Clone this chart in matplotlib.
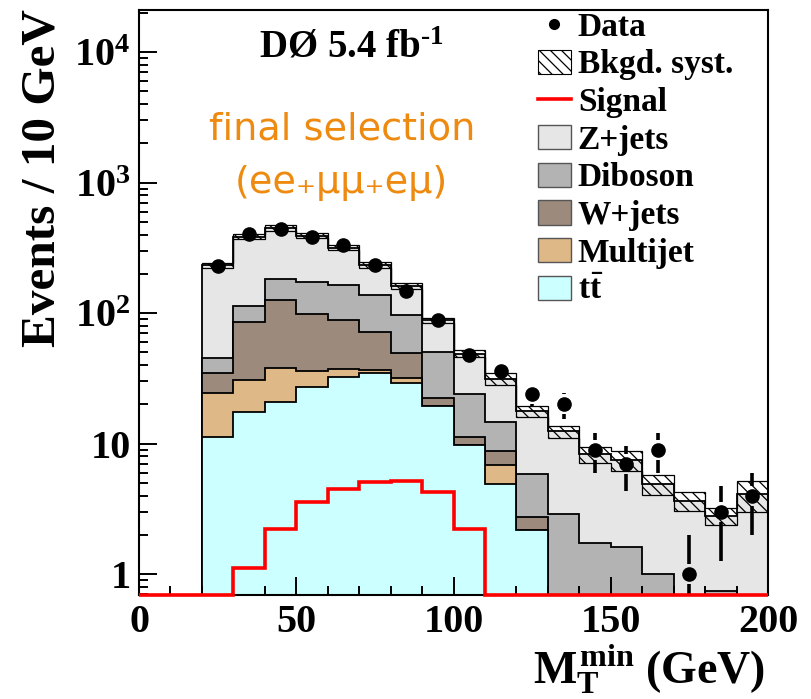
import numpy as np
import matplotlib
matplotlib.use("Agg")
import matplotlib.pyplot as plt
from matplotlib.patches import Patch
from matplotlib.lines import Line2D
from matplotlib.ticker import FixedLocator, FixedFormatter, MultipleLocator, LogLocator, NullFormatter

# fonts: bold times-like everywhere (ROOT style)
plt.rcParams['font.family'] = ['Liberation Serif', 'DejaVu Serif']
plt.rcParams['font.weight'] = 'bold'
plt.rcParams['mathtext.fontset'] = 'custom'
plt.rcParams['mathtext.rm'] = 'Liberation Serif:bold'
plt.rcParams['mathtext.bf'] = 'Liberation Serif:bold'
plt.rcParams['mathtext.it'] = 'Liberation Serif:bold'
plt.rcParams['hatch.linewidth'] = 0.9

# binning: 10 GeV bins, MC starts at 20 GeV
edges = np.arange(20, 201, 10)
centers = edges[:-1] + 5
sig_edges = np.arange(0, 201, 10)

# background components per bin (20-30 ... 190-200)
ttbar    = [11.2, 17.5, 20.8, 27.4, 32.3, 34.8, 29.4, 19.4, 9.7, 4.9, 2.2, 0, 0, 0, 0, 0, 0, 0]
multijet = [13.1, 13.5, 17.2, 8.9, 5.1, 2.1, 2.5, 0, 0, 2.0, 0, 0, 0, 0, 0, 0, 0, 0]
wjets    = [10.3, 54.5, 88.0, 61.7, 51.1, 34.9, 17.7, 2.8, 1.5, 1.9, 0.54, 0, 0, 0, 0, 0, 0, 0]
diboson  = [10.4, 28.5, 57.0, 75.0, 75.5, 65.2, 47.1, 27.8, 12.9, 5.8, 3.16, 2.91, 1.73, 1.62, 1.0, 0, 0.74, 0]
zjets    = [187, 272, 269, 220, 154, 96, 65.3, 38, 24.9, 16.9, 11.9, 9.49, 6.57, 5.88, 3.9, 3.66, 2.07, 4.1]
syst_frac = [0.05, 0.05, 0.05, 0.05, 0.05, 0.05, 0.05, 0.05, 0.065, 0.10, 0.095,
             0.11, 0.14, 0.18, 0.17, 0.16, 0.15, 0.27]

# signal, 0-200 GeV
signal = [0, 0, 0, 1.12, 2.21, 3.57, 4.52, 5.08, 5.14, 4.24, 2.21, 0, 0, 0, 0, 0, 0, 0, 0, 0]

# data counts per bin (20-200)
data = np.array([230, 406, 440, 384, 331, 232, 148, 88, 48, 36, 24, 20, 9, 7, 9, 1, 3, 4])

labels = ['Z+jets', 'Diboson', 'W+jets', 'Multijet', r'$\mathbf{t\bar{t}}$']
colors = ['#e6e6e6', '#b3b3b3', '#9c8b7c', '#deb887', '#ccffff']

ymin, ymax = 0.69, 2.1e4
floor = 0.3

fig = plt.figure(figsize=(8.12, 6.99), dpi=100)
ax = fig.add_axes([0.1712, 0.1484, 0.7746, 0.8373])

# stacked histogram, drawn from the top layer down
layers = np.array([ttbar, multijet, wjets, diboson, zjets])
cum = np.cumsum(layers, axis=0)
for top, c in zip(cum[::-1], colors):
    ax.stairs(np.where(top > 0, top, floor), edges, baseline=floor, fill=True,
              facecolor=c, edgecolor='black', lw=1.3)

# systematic band
total = cum[-1]
sf = np.array(syst_frac)
ax.stairs(total * (1 + sf), edges, baseline=total * (1 - sf), fill=True,
          facecolor=(1, 1, 1, 0), edgecolor='black', hatch='\\' * 3, lw=0.9)

# signal (zero bins sit on the bottom of the frame, like ROOT does)
ax.stairs(np.clip(signal, ymin, None), sig_edges, baseline=None, color='red', lw=2.6,
          zorder=11, clip_on=False)

# data with ROOT-like gap in the error bar around the marker
err = np.sqrt(data)
gap = 10 ** 0.077
for xc, n, e in zip(centers, data, err):
    if n + e > n * gap:
        ax.plot([xc, xc], [n * gap, n + e], color='black', lw=2.6, solid_capstyle='butt')
    lo = max(n - e, 1e-3)
    if lo < n / gap:
        ax.plot([xc, xc], [lo, n / gap], color='black', lw=2.6, solid_capstyle='butt')
ax.plot(centers, data, 'o', color='black', ms=9.5, zorder=5)

ax.set_yscale('log')
ax.set_xlim(0, 200)
ax.set_ylim(ymin, ymax)
ax.xaxis.set_major_locator(MultipleLocator(50))
ax.xaxis.set_minor_locator(MultipleLocator(10))
ytick_vals = [1, 10, 100, 1000, 10000]
ytick_labels = ['1', '10', r'$10^{2}$', r'$10^{3}$', r'$10^{4}$']
ax.yaxis.set_major_locator(FixedLocator(ytick_vals))
ax.yaxis.set_major_formatter(FixedFormatter(ytick_labels))
ax.yaxis.set_minor_locator(LogLocator(base=10, subs=np.arange(2, 10), numticks=20))
ax.yaxis.set_minor_formatter(NullFormatter())
ax.tick_params(which='both', direction='in', top=False, right=False, width=1.4)
ax.tick_params(which='major', length=13, labelsize=29, pad=6)
ax.tick_params(which='minor', length=6.5)
for s in ax.spines.values():
    s.set_linewidth(1.5)
    s.set_zorder(10)

fig.text(43 / 812, 1 - 9 / 699, 'Events / 10 GeV', rotation=90, ha='center', va='top',
         fontsize=35.5)
fig.text(765 / 812, 1 - 684 / 699, r'$M_{T}^{min}$ (GeV)', ha='right', va='baseline',
         fontsize=33)

fig.text(351 / 812, 1 - 57 / 699, 'DØ 5.4 fb$^{\u2010 1}$', ha='center', va='baseline', fontsize=28)
fig.text(342 / 812, 1 - 140 / 699, 'final selection', ha='center', va='baseline',
         fontsize=27.5, color='#ee8a10', fontweight='normal', family=['DejaVu Sans'])
fig.text(341 / 812, 1 - 193 / 699, '(ee\u208aμμ\u208aeμ)', ha='center', va='baseline',
         fontsize=27.5, color='#ee8a10', fontweight='normal', family=['DejaVu Sans'])

handles = [
    Line2D([], [], marker='o', color='black', ls='none', ms=7),
    Patch(facecolor='white', edgecolor='black', hatch='\\' * 3, lw=0.8),
    Line2D([], [], color='red', lw=2.6),
]
handles += [Patch(facecolor=c, edgecolor='#555555', lw=1.0) for c in colors]
leg_labels = ['Data', 'Bkgd. syst.', 'Signal'] + labels
ax.legend(handles, leg_labels, loc='upper left', bbox_to_anchor=(0.634, 0.997),
          frameon=False, fontsize=24, handlelength=1.0, handleheight=0.75,
          handletextpad=0.2, labelspacing=0.2, borderpad=0, borderaxespad=0)

fig.savefig('out.png', dpi=100)
